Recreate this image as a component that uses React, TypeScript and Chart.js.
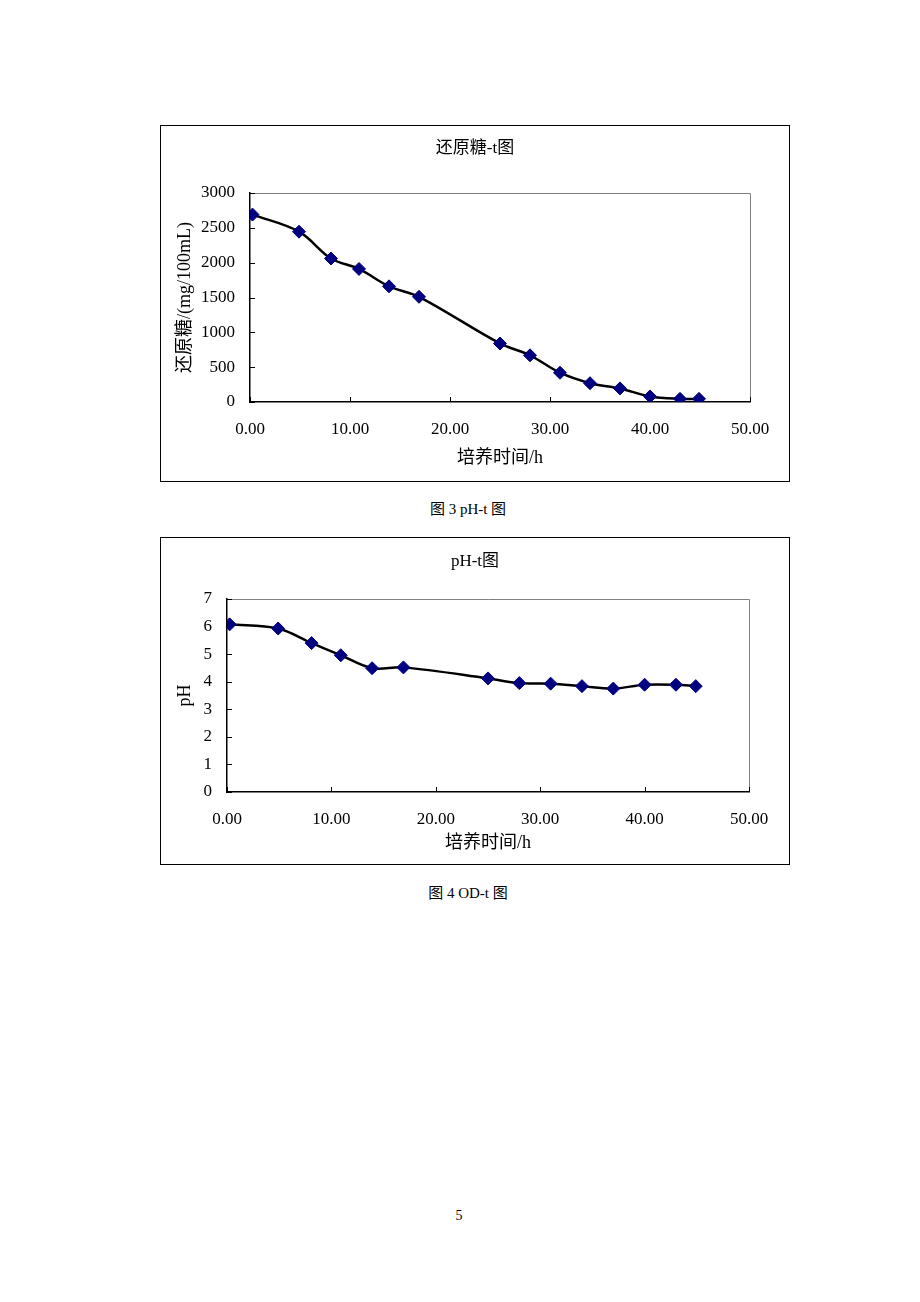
import React, { useEffect, useRef } from "react";
import { Chart, registerables } from "chart.js";

Chart.register(...registerables);

// ---- data ----
const timeH = [0.25, 4.9, 8.1, 10.9, 13.9, 16.9, 25, 28, 31, 34, 37, 40, 43, 44.9];
const sugarValues = [2690, 2445, 2060, 1910, 1660, 1510, 840, 670, 420, 270, 195, 80, 45, 45];
const phValues = [6.08, 5.93, 5.4, 4.96, 4.49, 4.52, 4.12, 3.95, 3.93, 3.84, 3.75, 3.89, 3.89, 3.84];

const sugarTitle = "还原糖-t图";
const sugarYTitle = "还原糖/(mg/100mL)";
const phTitle = "pH-t图";
const phYTitle = "pH";
const xTitle = "培养时间/h";
const caption3 = "图 3 pH-t 图";
const caption4 = "图 4 OD-t 图";
const pageNumber = "5";

const FONT = "'Liberation Serif', 'Noto Sans CJK SC', serif";

const frameTicks = {
  id: "frameTicks",
  beforeDatasetsDraw(chart: any) {
    const { ctx, chartArea } = chart;
    const { left, right, top, bottom } = chartArea;
    ctx.save();
    ctx.strokeStyle = "#808080";
    ctx.lineWidth = 1;
    ctx.beginPath();
    ctx.moveTo(left, top + 0.5);
    ctx.lineTo(right + 0.5, top + 0.5);
    ctx.lineTo(right + 0.5, bottom);
    ctx.stroke();
    ctx.strokeStyle = "#000";
    ctx.lineWidth = 1;
    const xs = chart.scales.x;
    xs.ticks.forEach((_: any, i: number) => {
      const px = Math.round(xs.getPixelForTick(i)) + 0.5;
      ctx.beginPath();
      ctx.moveTo(px, bottom);
      ctx.lineTo(px, bottom - 5);
      ctx.stroke();
    });
    const ys = chart.scales.y;
    ys.ticks.forEach((_: any, i: number) => {
      const py = Math.round(ys.getPixelForTick(i)) + 0.5;
      ctx.beginPath();
      ctx.moveTo(left, py);
      ctx.lineTo(left + 5, py);
      ctx.stroke();
    });
    ctx.restore();
  },
};

type Props = {
  boxLeft: number;
  boxTop: number;
  boxWidth: number;
  boxHeight: number;
  plotLeft: number;
  plotRight: number;
  plotTop: number;
  plotBottom: number;
  title: string;
  yTitle: string;
  values: number[];
  yMax: number;
  yStep: number;
  titleCenter: number;
  xTitleFromBottom: number;
};

function ChartBox(p: Props) {
  const ref = useRef<HTMLCanvasElement | null>(null);
  const cw = p.boxWidth - 2;
  const chH = p.boxHeight - 2;

  useEffect(() => {
    if (!ref.current) return;
    const titleLH = 17 * 1.2;
    const titlePadTop = p.titleCenter - titleLH / 2;
    const titlePadBottom = p.plotTop - titlePadTop - titleLH;
    const axisTitleLH = 18 * 1.2;
    const tickLH = 17 * 1.2;
    const chart = new Chart(ref.current, {
      type: "line",
      data: {
        datasets: [
          {
            data: timeH.map((t, i) => ({ x: t, y: p.values[i] })),
            borderColor: "#000",
            borderWidth: 2.5,
            tension: 0.35,
            pointStyle: "rectRot",
            pointRadius: 6.5,
            pointBorderWidth: 1,
            pointBackgroundColor: "#000080",
            pointBorderColor: "#000080",
            fill: false,
          },
        ],
      },
      options: {
        animation: false,
        responsive: false,
        maintainAspectRatio: false,
        layout: { padding: 0 },
        plugins: {
          legend: { display: false },
          tooltip: { enabled: false },
          title: {
            display: true,
            text: p.title,
            color: "#000",
            font: { family: FONT, size: 17, weight: "normal", lineHeight: 1.2 },
            padding: { top: titlePadTop, bottom: titlePadBottom },
          },
        },
        scales: {
          x: {
            type: "linear",
            min: 0,
            max: 50,
            ticks: {
              stepSize: 10,
              color: "#000",
              padding: 28 - tickLH / 2,
              font: { family: FONT, size: 17, lineHeight: 1.2 },
              maxRotation: 0,
              callback: (v: any) => Number(v).toFixed(2),
            },
            grid: { display: true, drawOnChartArea: false, drawTicks: false },
            border: { display: true, color: "#000", width: 1.5 },
            title: {
              display: true,
              text: xTitle,
              color: "#000",
              font: { family: FONT, size: 18, lineHeight: 1.2 },
              padding: { top: 0, bottom: p.xTitleFromBottom - axisTitleLH / 2 },
            },
            afterFit: (s: any) => {
              s.height = chH - p.plotBottom;
            },
          },
          y: {
            type: "linear",
            min: 0,
            max: p.yMax,
            ticks: {
              stepSize: p.yStep,
              color: "#000",
              padding: 15,
              font: { family: FONT, size: 17, lineHeight: 1.2 },
              callback: (v: any) => String(v),
            },
            grid: { display: true, drawOnChartArea: false, drawTicks: false },
            border: { display: true, color: "#000", width: 1.5 },
            title: {
              display: true,
              text: p.yTitle,
              color: "#000",
              font: { family: FONT, size: 18, lineHeight: 1.2 },
              padding: { top: 24 - axisTitleLH / 2, bottom: 0 },
            },
            afterFit: (s: any) => {
              s.width = p.plotLeft;
            },
          },
          spacer: {
            type: "linear",
            position: "right",
            display: true,
            ticks: { display: false },
            grid: { display: false, drawTicks: false },
            border: { display: false },
            afterFit: (s: any) => {
              s.width = cw - p.plotRight;
            },
          },
        },
      },
      plugins: [frameTicks],
    } as any);
    return () => chart.destroy();
  }, []);

  return (
    <div
      style={{
        position: "absolute",
        left: p.boxLeft,
        top: p.boxTop,
        width: p.boxWidth,
        height: p.boxHeight,
        boxSizing: "border-box",
        border: "1px solid #000",
        background: "#fff",
      }}
    >
      <canvas ref={ref} width={cw} height={chH} style={{ display: "block", width: cw, height: chH }} />
    </div>
  );
}

const textStyle: React.CSSProperties = {
  position: "absolute",
  textAlign: "center",
  fontFamily: FONT,
  color: "#000",
  whiteSpace: "nowrap",
};

export default function App() {
  return (
    <div>
      <ChartBox
        boxLeft={160}
        boxTop={125}
        boxWidth={630}
        boxHeight={357}
        plotLeft={89}
        plotRight={589}
        plotTop={67}
        plotBottom={276}
        title={sugarTitle}
        yTitle={sugarYTitle}
        values={sugarValues}
        yMax={3000}
        yStep={500}
        titleCenter={22.5}
        xTitleFromBottom={22.5}
      />
      <div style={{ ...textStyle, left: 368, width: 200, top: 499, fontSize: 15, lineHeight: "20px" }}>{caption3}</div>
      <ChartBox
        boxLeft={160}
        boxTop={537}
        boxWidth={630}
        boxHeight={328}
        plotLeft={66}
        plotRight={588}
        plotTop={61}
        plotBottom={254}
        title={phTitle}
        yTitle={phYTitle}
        values={phValues}
        yMax={7}
        yStep={1}
        titleCenter={24}
        xTitleFromBottom={21}
      />
      <div style={{ ...textStyle, left: 368, width: 200, top: 883, fontSize: 15, lineHeight: "20px" }}>{caption4}</div>
      <div style={{ ...textStyle, left: 439, width: 40, top: 1206, fontSize: 14, lineHeight: "20px" }}>{pageNumber}</div>
    </div>
  );
}
